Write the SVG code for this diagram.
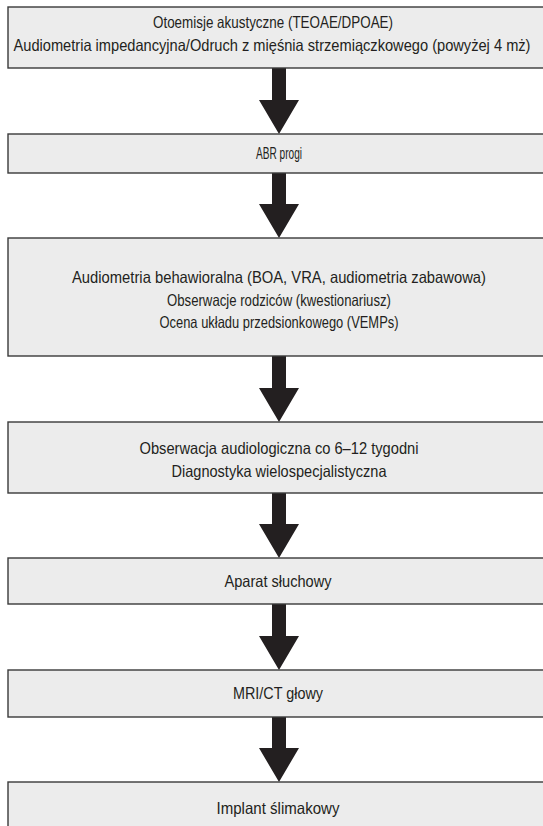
<svg xmlns="http://www.w3.org/2000/svg" width="543" height="826" viewBox="0 0 543 826">
<style>
.box{fill:#ececec;stroke:#3a3a3a;stroke-width:1.4}
.t{font-family:"Liberation Sans Narrow","Liberation Sans","DejaVu Sans Condensed",sans-serif;font-size:16.5px;fill:#231f20;text-anchor:middle}
.arr{fill:#231f20}
</style>
<rect width="543" height="826" fill="#ffffff"/>
<g id="connectors">
<path class="arr" d="M272,68 H286 V100 H299 L279,134 L259,100 H272 Z"/>
<path class="arr" d="M272,173 H286 V204 H299 L279,238 L259,204 H272 Z"/>
<path class="arr" d="M272,356 H286 V388 H299 L279,422 L259,388 H272 Z"/>
<path class="arr" d="M272,493 H286 V524 H299 L279,558 L259,524 H272 Z"/>
<path class="arr" d="M272,604 H286 V636 H299 L279,670 L259,636 H272 Z"/>
<path class="arr" d="M272,717 H286 V748 H299 L279,782 L259,748 H272 Z"/>
</g>
<g id="n1">
<rect class="box" x="8" y="7" width="545" height="61"/>
<text class="t" x="273" y="28" textLength="240" lengthAdjust="spacingAndGlyphs">Otoemisje akustyczne (TEOAE/DPOAE)</text>
<text class="t" x="272" y="51" textLength="517" lengthAdjust="spacingAndGlyphs">Audiometria impedancyjna/Odruch z mięśnia strzemiączkowego (powyżej 4 mż)</text>
</g>
<g id="n2">
<rect class="box" x="8" y="134" width="545" height="39"/>
<text class="t" x="279" y="159" textLength="46" lengthAdjust="spacingAndGlyphs">ABR progi</text>
</g>
<g id="n3">
<rect class="box" x="8" y="238" width="545" height="118"/>
<text class="t" x="279" y="283" textLength="414" lengthAdjust="spacingAndGlyphs">Audiometria behawioralna (BOA, VRA, audiometria zabawowa)</text>
<text class="t" x="279" y="306" textLength="224" lengthAdjust="spacingAndGlyphs">Obserwacje rodziców (kwestionariusz)</text>
<text class="t" x="279" y="328" textLength="239" lengthAdjust="spacingAndGlyphs">Ocena układu przedsionkowego (VEMPs)</text>
</g>
<g id="n4">
<rect class="box" x="8" y="422" width="545" height="71"/>
<text class="t" x="279" y="454" textLength="279" lengthAdjust="spacingAndGlyphs">Obserwacja audiologiczna co 6–12 tygodni</text>
<text class="t" x="279" y="477" textLength="215" lengthAdjust="spacingAndGlyphs">Diagnostyka wielospecjalistyczna</text>
</g>
<g id="n5">
<rect class="box" x="8" y="558" width="545" height="46"/>
<text class="t" x="278" y="587" textLength="107" lengthAdjust="spacingAndGlyphs">Aparat słuchowy</text>
</g>
<g id="n6">
<rect class="box" x="8" y="670" width="545" height="47"/>
<text class="t" x="278" y="699" textLength="90" lengthAdjust="spacingAndGlyphs">MRI/CT głowy</text>
</g>
<g id="n7">
<rect class="box" x="8" y="782" width="545" height="60"/>
<text class="t" x="278" y="814" textLength="123" lengthAdjust="spacingAndGlyphs">Implant ślimakowy</text>
</g>
</svg>
